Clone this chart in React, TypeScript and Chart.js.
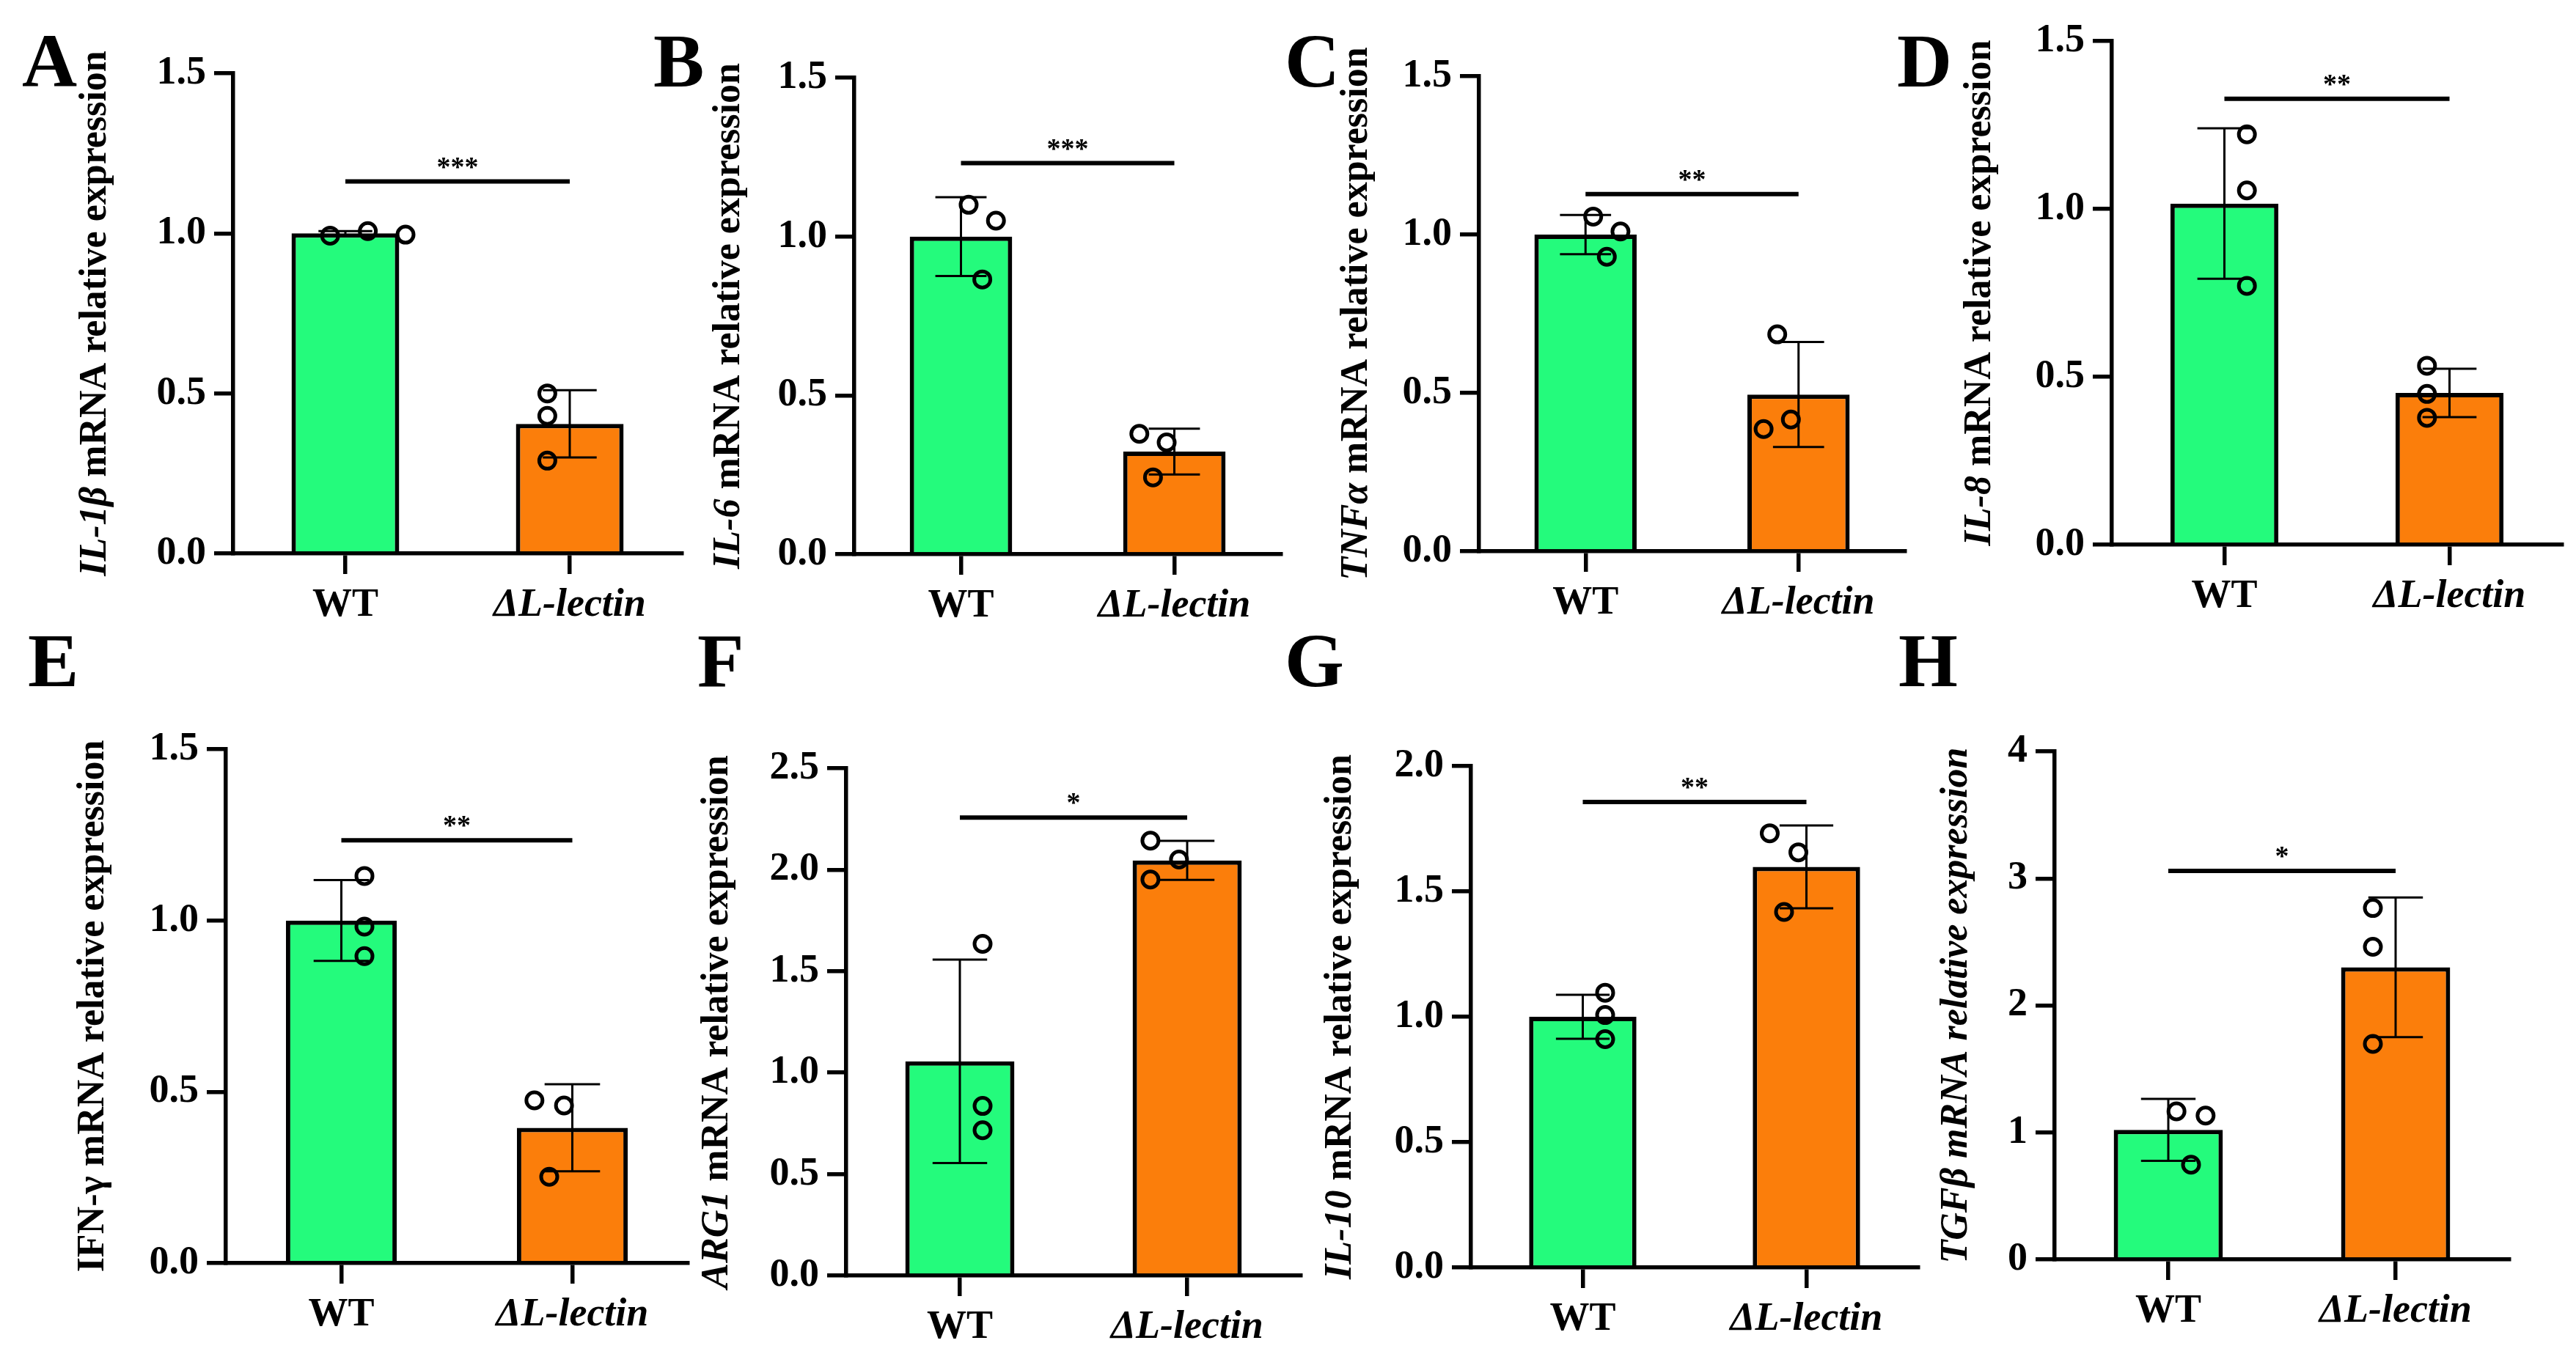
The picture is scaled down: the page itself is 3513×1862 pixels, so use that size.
import { useEffect, useRef } from "react"
import { Chart, registerables } from "chart.js"

Chart.register(...registerables)

const SERIF = "'Liberation Serif', 'Times New Roman', serif"
const GREEN = "#24FB7C"
const ORANGE = "#FB7E0B"

const groups = ["WT", "ΔL-lectin"]

const ticks15 = ["0.0", "0.5", "1.0", "1.5"]
const ticks20 = ["0.0", "0.5", "1.0", "1.5", "2.0"]
const ticks25 = ["0.0", "0.5", "1.0", "1.5", "2.0", "2.5"]
const ticks4 = ["0", "1", "2", "3", "4"]

// horizontal spread of the three dots, in category units
const centered = [0, 0, 0]
const spread = [-0.08, 0.08, 0]
const wide = [-0.21, 0, 0.21]
const argKoSpread = [-0.077, 0.08, -0.077]

// A  IL-1β
const il1bMean = [1.0, 0.405]
const il1bSd = [0.007, 0.105]
const il1bWt = [0.993, 1.007, 0.996]
const il1bKo = [0.5, 0.43, 0.29]

// B  IL-6
const il6Mean = [1.0, 0.323]
const il6Sd = [0.124, 0.072]
const il6Wt = [1.1, 1.05, 0.865]
const il6Ko = [0.379, 0.352, 0.242]

// C  TNFα
const tnfMean = [1.0, 0.495]
const tnfSd = [0.062, 0.166]
const tnfWt = [1.057, 1.01, 0.93]
const tnfKo = [0.386, 0.416, 0.685]

// D  IL-8
const il8Mean = [1.016, 0.452]
const il8Sd = [0.224, 0.072]
const il8Wt = [1.222, 1.055, 0.771]
const il8Ko = [0.533, 0.449, 0.378]

// E  IFN-γ
const ifnMean = [1.0, 0.395]
const ifnSd = [0.118, 0.127]
const ifnWt = [1.13, 0.982, 0.896]
const ifnKo = [0.475, 0.46, 0.252]

// F  ARG1
const argMean = [1.056, 2.046]
const argSd = [0.501, 0.096]
const argWt = [1.635, 0.836, 0.716]
const argKo = [2.143, 2.05, 1.952]

// G  IL-10
const il10Mean = [1.0, 1.598]
const il10Sd = [0.088, 0.165]
const il10Wt = [1.096, 1.007, 0.911]
const il10Ko = [1.732, 1.656, 1.418]

// H  TGFβ
const tgfMean = [1.02, 2.3]
const tgfSd = [0.244, 0.55]
const tgfWt = [1.166, 1.133, 0.746]
const tgfKo = [2.767, 2.462, 1.697]

const sigHeights = [1.162, 1.231, 1.128, 1.328, 1.234, 2.257, 1.857, 3.059]
const sigStars = ["***", "***", "**", "**", "**", "*", "**", "*"]

type Seg = { text: string; italic: boolean }
type Panel = {
  letter: string
  title: Seg[]
  mean: number[]
  sd: number[]
  wt: number[]
  ko: number[]
  wtJit: number[]
  koJit: number[]
  ticks: string[]
  sig: number
  stars: string
  plot: [number, number, number, number]
  letterAt: [number, number]
  titleX: number
}

const rest = " mRNA relative expression"

const panels: Panel[] = [
  {
    letter: "A", title: [{ text: "IL-1β", italic: true }, { text: rest, italic: false }],
    mean: il1bMean, sd: il1bSd, wt: il1bWt, ko: il1bKo, wtJit: wide, koJit: centered,
    ticks: ticks15, sig: sigHeights[0], stars: sigStars[0],
    plot: [318, 100, 930, 755], letterAt: [30, 118], titleX: 132,
  },
  {
    letter: "B", title: [{ text: "IL-6", italic: true }, { text: rest, italic: false }],
    mean: il6Mean, sd: il6Sd, wt: il6Wt, ko: il6Ko, wtJit: spread, koJit: spread,
    ticks: ticks15, sig: sigHeights[1], stars: sigStars[1],
    plot: [1165, 106, 1747, 756], letterAt: [891, 118], titleX: 996,
  },
  {
    letter: "C", title: [{ text: "TNFα", italic: true }, { text: rest, italic: false }],
    mean: tnfMean, sd: tnfSd, wt: tnfWt, ko: tnfKo, wtJit: spread, koJit: spread,
    ticks: ticks15, sig: sigHeights[2], stars: sigStars[2],
    plot: [2017, 104, 2598, 752], letterAt: [1752, 118], titleX: 1852,
  },
  {
    letter: "D", title: [{ text: "IL-8", italic: true }, { text: rest, italic: false }],
    mean: il8Mean, sd: il8Sd, wt: il8Wt, ko: il8Ko, wtJit: centered, koJit: centered,
    ticks: ticks15, sig: sigHeights[3], stars: sigStars[3],
    plot: [2880, 56, 3494, 743], letterAt: [2587, 118], titleX: 2702,
  },
  {
    letter: "E", title: [{ text: "IFN-γ" + rest, italic: false }],
    mean: ifnMean, sd: ifnSd, wt: ifnWt, ko: ifnKo, wtJit: centered, koJit: spread,
    ticks: ticks15, sig: sigHeights[4], stars: sigStars[4],
    plot: [308, 1022, 938, 1723], letterAt: [38, 936], titleX: 129,
  },
  {
    letter: "F", title: [{ text: "ARG1", italic: true }, { text: rest, italic: false }],
    mean: argMean, sd: argSd, wt: argWt, ko: argKo, wtJit: centered, koJit: argKoSpread,
    ticks: ticks25, sig: sigHeights[5], stars: sigStars[5],
    plot: [1154, 1048, 1774, 1740], letterAt: [951, 936], titleX: 980,
  },
  {
    letter: "G", title: [{ text: "IL-10", italic: true }, { text: rest, italic: false }],
    mean: il10Mean, sd: il10Sd, wt: il10Wt, ko: il10Ko, wtJit: centered, koJit: spread,
    ticks: ticks20, sig: sigHeights[6], stars: sigStars[6],
    plot: [2006, 1045, 2616, 1729], letterAt: [1752, 936], titleX: 1830,
  },
  {
    letter: "H", title: [{ text: "TGFβ mRNA relative expression", italic: true }],
    mean: tgfMean, sd: tgfSd, wt: tgfWt, ko: tgfKo, wtJit: spread, koJit: centered,
    ticks: ticks4, sig: sigHeights[7], stars: sigStars[7],
    plot: [2802, 1025, 3422, 1718], letterAt: [2589, 936], titleX: 2670,
  },
]

// canvas margins around the plot area
const PAD_L = 320
const PAD_T = 200
const PAD_R = 20
const PAD_B = 130
const Y_W = 150
const X_H = 120

function BarPanel({ p }: { p: Panel }) {
  const ref = useRef<HTMLCanvasElement>(null)
  const [L, T, R, B] = p.plot
  const left = L - PAD_L
  const top = T - PAD_T
  const width = R - L + PAD_L + PAD_R
  const height = B - T + PAD_T + PAD_B

  useEffect(() => {
    if (!ref.current) return
    const ctx = ref.current.getContext("2d")
    if (!ctx) return

    const yMax = parseFloat(p.ticks[p.ticks.length - 1])
    const yStep = parseFloat(p.ticks[1])

    const decor = {
      id: "decor",
      afterDatasetDraw(chart: any, args: any) {
        if (args.meta.type !== "bar") return
        const c = chart.ctx
        const ys = chart.scales.y
        c.save()
        c.strokeStyle = "#000"
        c.lineWidth = 3
        args.meta.data.forEach((bar: any, i: number) => {
          const cap = bar.width / 4
          const hi = ys.getPixelForValue(p.mean[i] + p.sd[i])
          const lo = ys.getPixelForValue(p.mean[i] - p.sd[i])
          c.beginPath()
          c.moveTo(bar.x, hi)
          c.lineTo(bar.x, lo)
          c.moveTo(bar.x - cap, hi)
          c.lineTo(bar.x + cap, hi)
          c.moveTo(bar.x - cap, lo)
          c.lineTo(bar.x + cap, lo)
          c.stroke()
        })
        c.restore()
      },
      afterDraw(chart: any) {
        const c = chart.ctx
        const xs = chart.scales.x
        const ys = chart.scales.y
        const area = chart.chartArea
        c.save()
        c.fillStyle = "#000"
        c.strokeStyle = "#000"

        // significance bar
        const sy = ys.getPixelForValue(p.sig)
        const x0 = xs.getPixelForTick(0)
        const x1 = xs.getPixelForTick(1)
        c.lineWidth = 6
        c.beginPath()
        c.moveTo(x0, sy)
        c.lineTo(x1, sy)
        c.stroke()
        c.font = `bold 38px ${SERIF}`
        c.textAlign = "center"
        c.textBaseline = "alphabetic"
        c.fillText(p.stars, (x0 + x1) / 2, sy - 8)

        // y title, mixed italic / upright
        const size = 52
        c.save()
        c.translate(p.titleX - left, (area.top + area.bottom) / 2)
        c.rotate(-Math.PI / 2)
        c.textAlign = "left"
        const fonts = p.title.map((s) => `${s.italic ? "italic " : ""}bold ${size}px ${SERIF}`)
        const widths = p.title.map((s, i) => {
          c.font = fonts[i]
          return c.measureText(s.text).width
        })
        let tx = -widths.reduce((a, b) => a + b, 0) / 2
        p.title.forEach((s, i) => {
          c.font = fonts[i]
          c.fillText(s.text, tx, size * 0.23)
          tx += widths[i]
        })
        c.restore()

        // panel letter
        c.font = `bold 104px ${SERIF}`
        c.textAlign = "left"
        c.fillText(p.letter, p.letterAt[0] - left, p.letterAt[1] - top)
        c.restore()
      },
    }

    const dots = [
      ...p.wt.map((v, k) => ({ x: 0 + p.wtJit[k], y: v })),
      ...p.ko.map((v, k) => ({ x: 1 + p.koJit[k], y: v })),
    ]

    const axisGrid = (tickLength: number) => ({
      display: true,
      drawOnChartArea: false,
      drawTicks: true,
      tickLength,
      lineWidth: 5.5,
      color: "#000",
      offset: false,
    })
    const axisBorder = { display: true, color: "#000", width: 5.5 }

    const chart = new Chart(ctx, {
      type: "bar",
      data: {
        labels: groups,
        datasets: [
          {
            type: "bar",
            data: p.mean,
            backgroundColor: [GREEN, ORANGE],
            borderColor: "#000",
            borderWidth: 6,
            barPercentage: 0.48,
            categoryPercentage: 1,
            grouped: false,
            order: 2,
          },
          {
            type: "scatter",
            data: dots,
            xAxisID: "xp",
            pointRadius: 11,
            pointBorderWidth: 5,
            pointBorderColor: "#000",
            pointBackgroundColor: "rgba(0,0,0,0)",
            order: 1,
          } as any,
        ],
      },
      options: {
        responsive: false,
        devicePixelRatio: 1,
        animation: false,
        events: [],
        layout: {
          padding: { left: PAD_L - Y_W, top: PAD_T, right: PAD_R, bottom: PAD_B - X_H },
        },
        plugins: {
          legend: { display: false },
          tooltip: { enabled: false },
        },
        scales: {
          x: {
            type: "category",
            offset: true,
            z: 1,
            afterFit: (s: any) => {
              s.height = X_H
            },
            grid: axisGrid(28),
            border: axisBorder,
            ticks: {
              color: "#000",
              padding: 11,
              maxRotation: 0,
              autoSkip: false,
              font: (c: any) => ({
                family: SERIF,
                size: 54,
                weight: "bold",
                style: c.index === 1 ? "italic" : "normal",
              }),
            },
          },
          xp: {
            type: "linear",
            axis: "x",
            display: false,
            min: -0.5,
            max: 1.5,
          },
          y: {
            type: "linear",
            min: 0,
            max: yMax,
            z: 1,
            afterFit: (s: any) => {
              s.width = Y_W
            },
            grid: axisGrid(26),
            border: axisBorder,
            ticks: {
              stepSize: yStep,
              color: "#000",
              padding: 11,
              font: { family: SERIF, size: 54, weight: "bold" },
              callback: (_v: any, i: number) => p.ticks[i],
            },
          },
        } as any,
      },
      plugins: [decor],
    })

    return () => {
      chart.destroy()
    }
  }, [p])

  return (
    <canvas
      ref={ref}
      width={width}
      height={height}
      style={{ position: "absolute", left, top, width, height }}
    />
  )
}

export default function App() {
  return (
    <div
      style={{
        position: "fixed",
        left: 0,
        top: 0,
        width: 3513,
        height: 1862,
        background: "#fff",
        overflow: "hidden",
      }}
    >
      {panels.map((p) => (
        <BarPanel key={p.letter} p={p} />
      ))}
    </div>
  )
}
